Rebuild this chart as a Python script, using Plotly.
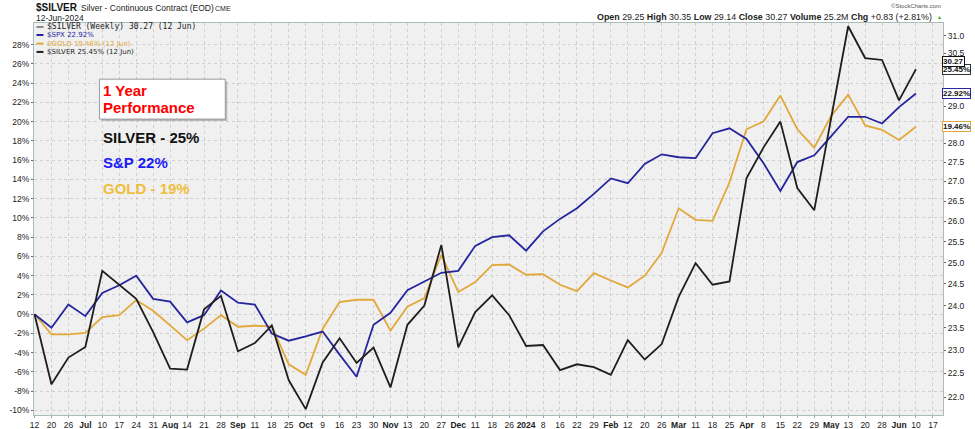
import math
import pandas as pd
import plotly.graph_objects as go

# ---------------- data ----------------
start_date = "2023-06-12"
weeks = pd.date_range(start_date, periods=53, freq="7D")
tick_dates = pd.date_range(start_date, periods=54, freq="7D")
tick_labels = ["12", "20", "26", "<b>Jul</b>", "10", "17", "24", "31", "<b>Aug</b>", "14", "21", "28",
               "<b>Sep</b>", "11", "18", "25", "<b>Oct</b>", "9", "16", "23", "30", "<b>Nov</b>", "13", "20",
               "27", "<b>Dec</b>", "11", "18", "26", "<b>2024</b>", "8", "16", "22", "29", "<b>Feb</b>", "12",
               "20", "26", "<b>Mar</b>", "11", "18", "25", "<b>Apr</b>", "8", "15", "22", "29", "<b>May</b>",
               "13", "20", "28", "<b>Jun</b>", "10", "17"]

spx = [0, -1.4, 1.0, -0.2, 2.2, 3.0, 4.0, 1.6, 1.3, -0.85, -0.1, 2.45, 1.2, 1.0, -2.0, -2.75, -2.3,
       -1.8, -4.2, -6.5, -1.1, 0.15, 2.5, 3.4, 4.3, 4.5, 7.1, 8.0, 8.2, 6.6, 8.6, 9.9, 11.0, 12.5,
       14.1, 13.6, 15.6, 16.6, 16.3, 16.2, 18.8, 19.3, 18.2, 15.7, 12.8, 15.8, 16.5, 18.5, 20.5, 20.5,
       19.8, 21.5, 22.92]
gold = [0, -2.1, -2.1, -1.95, -0.3, -0.1, 1.47, 0.36, -1.16, -2.7, -1.5, -0.1, -1.3, -1.2, -1.26,
        -5.2, -6.3, -1.5, 1.26, 1.5, 1.5, -1.7, 0.78, 1.68, 6.17, 2.3, 3.33, 5.1, 5.16, 4.1, 4.16,
        3.06, 2.4, 4.27, 3.5, 2.78, 4.0, 6.37, 11.0, 9.8, 9.7, 13.7, 19.2, 20.0, 22.7, 19.2, 17.3,
        20.6, 22.8, 19.6, 19.15, 18.1, 19.46]
silver = [0, -7.27, -4.5, -3.4, 4.5, 3.06, 1.6, -1.85, -5.65, -5.75, 0.5, 1.9, -3.85, -3.0, -1.16,
          -6.86, -9.86, -5.0, -2.5, -5.06, -3.47, -7.6, -1.1, 0.9, 7.2, -3.44, 0.23, 1.95, -0.1, -3.3,
          -3.2, -5.8, -5.2, -5.5, -6.3, -2.7, -4.7, -3.1, 1.8, 5.3, 3.06, 3.4, 14.1, 17.3, 20.0, 13.1,
          10.8, 20.4, 29.9, 26.6, 26.4, 22.2, 25.45]
silver_close = 30.27

pct_ticks = list(range(-10, 30, 2))
pct_labels = [f"{v}%" for v in pct_ticks]
price_ticks = [22.0 + 0.5 * k for k in range(19)]
# labels hidden behind the last-value tags in the original are left blank
price_labels = ["" if v in (28.5, 29.5, 30.0) else f"{v:.1f}" for v in price_ticks]

# ---------------- style ----------------
W, H = 975, 429
L, R, T, B = 33.5, 943.5, 22.7, 415.5
C_SPX = "#25259e"
C_GOLD = "#e2a83a"
C_SLV = "#1e1e1e"
FONT = "Arial, Liberation Sans, sans-serif"


def px(x):
    return (x - L) / (R - L)


def py(y):
    return (B - y) / (B - T)


fig = go.Figure()
fig.add_trace(go.Scatter(x=weeks, y=gold, mode="lines", line=dict(color=C_GOLD, width=1.8),
                         name="$GOLD", showlegend=False))
fig.add_trace(go.Scatter(x=weeks, y=spx, mode="lines", line=dict(color=C_SPX, width=1.8),
                         name="$SPX", showlegend=False))
fig.add_trace(go.Scatter(x=weeks, y=silver, mode="lines", line=dict(color=C_SLV, width=1.8),
                         name="$SILVER", showlegend=False))

x0 = pd.Timestamp(start_date)
x_lo = x0 - pd.Timedelta(days=7 * 0.5 / 16.97)
x_hi = x0 + pd.Timedelta(days=7 * (R - 34) / 16.97)

# log price axis: 31.0 at y=35.7 px, 1055.4 px per ln-unit
ln31 = math.log(31.0)
y2_top = (ln31 + (35.7 - T) / 1055.4) / math.log(10)
y2_bot = (ln31 - (B - 35.7) / 1055.4) / math.log(10)

axis_line = "#a9bdb6"
fig.update_layout(
    width=W, height=H,
    margin=dict(l=L, r=W - R, t=T, b=H - B, pad=0),
    paper_bgcolor="white", plot_bgcolor="#f0f0f0",
    font=dict(family=FONT, size=9, color="#222"),
    xaxis=dict(type="date", range=[x_lo, x_hi], tickvals=tick_dates, ticktext=tick_labels,
               showgrid=True, gridcolor="#cfcfcf", griddash="dot", gridwidth=1,
               showline=True, linecolor=axis_line, mirror=True, ticks="outside", ticklen=2,
               tickcolor="#9aa", tickfont=dict(size=8.5, color="#222"), automargin=False,
               tickangle=0, zeroline=False),
    yaxis=dict(range=[(314.5 - B) / 9.65, (314.5 - T) / 9.65], tickvals=pct_ticks, ticktext=pct_labels,
               showgrid=True, gridcolor="#cfcfcf", griddash="dot", gridwidth=1, zeroline=False,
               showline=True, linecolor=axis_line, mirror=True, ticks="outside", ticklen=2,
               tickcolor="#666", tickfont=dict(size=8.5, color="#222"), automargin=False),
    yaxis2=dict(overlaying="y", side="right", type="log", range=[y2_bot, y2_top],
                tickvals=price_ticks, ticktext=price_labels, showgrid=False, zeroline=False,
                showline=True, linecolor=axis_line, ticks="outside", ticklen=2, tickcolor="#666",
                tickfont=dict(size=8.5, color="#222"), automargin=False),
)

ann = []
shapes = []
# header
ann.append(dict(x=33, y=7, text="<b>$SILVER</b>", font=dict(size=10, color="#111")))
ann.append(dict(x=78.5, y=7.5, text="Silver - Continuous Contract (EOD)", font=dict(size=8.5, color="#222")))
ann.append(dict(x=212.5, y=8, text="CME", font=dict(size=7, color="#222")))
ann.append(dict(x=33, y=17.5, text="12-Jun-2024", font=dict(size=8.5, color="#222")))
ann.append(dict(x=943, y=6, text="©StockCharts.com", font=dict(size=6, color="#555"), xanchor="right"))
ann.append(dict(x=934, y=16.5,
                text="<b>Open</b> 29.25 <b>High</b> 30.35 <b>Low</b> 29.14 <b>Close</b> 30.27 "
                     "<b>Volume</b> 25.2M <b>Chg</b> +0.83 (+2.81%)",
                font=dict(size=8.9, color="#222"), xanchor="right"))
ann.append(dict(x=935.5, y=17, text="▲", font=dict(size=5, color="#22aa22")))

# in-plot legend
leg = [("$SILVER (Weekly) 30.27 (12 Jun)", "#8a8a8a", "#222", 26.7, "DejaVu Sans Mono", 8),
       ("$SPX 22.92%", C_SPX, C_SPX, 34.7, "DejaVu Sans", 7),
       ("$GOLD 19.46% (12 Jun)", C_GOLD, C_GOLD, 43.3, "DejaVu Sans", 7),
       ("$SILVER 25.45% (12 Jun)", C_SLV, C_SLV, 51.7, "DejaVu Sans", 7)]
for txt, dash_c, txt_c, yy, fam, fs in leg:
    shapes.append(dict(type="line", xref="paper", yref="paper", x0=px(36), x1=px(43), y0=py(yy), y1=py(yy),
                       line=dict(color=dash_c, width=2)))
    ann.append(dict(x=44.5, y=yy, text=txt, font=dict(size=fs, color=txt_c, family=fam)))

# performance box
shapes.append(dict(type="rect", xref="paper", yref="paper", x0=px(101), x1=px(227), y0=py(121), y1=py(81),
                   fillcolor="#b8b8b8", line=dict(width=0), layer="above"))
shapes.append(dict(type="rect", xref="paper", yref="paper", x0=px(99), x1=px(225), y0=py(119), y1=py(79),
                   fillcolor="white", line=dict(color="#9a9a9a", width=1), layer="above"))
ann.append(dict(x=101, y=90.5, text="<b>1 Year</b>", font=dict(size=15, color="#ff0000")))
ann.append(dict(x=101, y=107.5, text="<b>Performance</b>", font=dict(size=15, color="#ff0000")))
ann.append(dict(x=101, y=137.5, text="<b>SILVER - 25%</b>", font=dict(size=15, color="#111111")))
ann.append(dict(x=101, y=162.5, text="<b>S&P 22%</b>", font=dict(size=15, color="#1c1cf5")))
ann.append(dict(x=101, y=188.3, text="<b>GOLD - 19%</b>", font=dict(size=15, color="#f0be3c")))

layout_ann = []
for a in ann:
    f = {"family": FONT}
    f.update(a["font"])
    layout_ann.append(dict(xref="paper", yref="paper", x=px(a["x"]), y=py(a["y"]), text=a["text"],
                           showarrow=False, xanchor=a.get("xanchor", "left"), yanchor="middle", font=f))

# price tags on right edge (at last values)
tags = [(silver[-1], "y", f"{silver[-1]:.2f}%", "#333333"),
        (silver_close, "y2", f"{silver_close:.2f}", "#111111"),
        (spx[-1], "y", f"{spx[-1]:.2f}%", C_SPX),
        (gold[-1], "y", f"{gold[-1]:.2f}%", C_GOLD)]
for val, yref, txt, bc in tags:
    yv = math.log10(val) if yref == "y2" else val
    layout_ann.append(dict(xref="paper", yref=yref, x=px(942), y=yv, text=f"<b>{txt}</b>", showarrow=False,
                           xanchor="left", yanchor="middle", bgcolor="white", bordercolor=bc, borderwidth=1,
                           borderpad=0, font=dict(family=FONT, size=8, color="#111")))

fig.update_layout(annotations=layout_ann, shapes=shapes)
fig.write_html("out.html")
